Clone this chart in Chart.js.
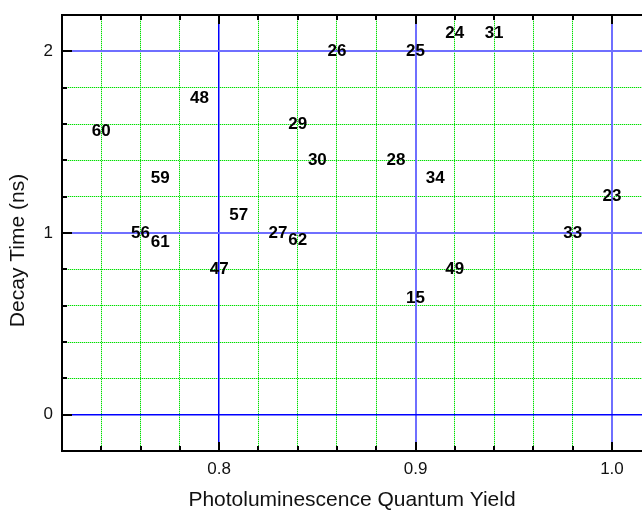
<!DOCTYPE html>
<html>
<head>
<meta charset="utf-8">
<script src="https://cdn.jsdelivr.net/npm/chart.js@4.4.1/dist/chart.umd.min.js"></script>
<style>
  html, body { margin: 0; padding: 0; background: #fff; }
  #wrap { width: 642px; height: 511px; }
</style>
</head>
<body>
<div id="wrap"><canvas id="c" width="642" height="511"></canvas></div>
<script>
// ---- data ----
const pointLabels = ['60','48','59','56','61','57','47','27','62','29','30','26','28','25','15','34','24','49','31','33','23'];
const qyValues    = [0.74,0.79,0.77,0.76,0.77,0.81,0.80,0.83,0.84,0.84,0.85,0.86,0.89,0.90,0.90,0.91,0.92,0.92,0.94,0.98,1.00];
const decayValues = [1.56,1.74,1.30,1.00,0.95,1.10,0.80,1.00,0.96,1.60,1.40,2.00,1.40,2.00,0.64,1.30,2.10,0.80,2.10,1.00,1.20];

// ---- tick labels / grid positions ----
const xMajorTicks = [0.8, 0.9, 1.0];
const xMinorTicks = [0.74, 0.76, 0.78, 0.82, 0.84, 0.86, 0.88, 0.92, 0.94, 0.96, 0.98];
const yMajorTicks = [0, 1, 2];
const yMinorTicks = [0.2, 0.4, 0.6, 0.8, 1.2, 1.4, 1.6, 1.8];
const xTickLabels = ['0.8', '0.9', '1.0'];
const yTickLabels = ['0', '1', '2'];

const points = qyValues.map((v, i) => ({ x: v, y: decayValues[i] }));

const textLabels = {
  id: 'textLabels',
  afterDatasetsDraw(chart) {
    const ctx = chart.ctx;
    const meta = chart.getDatasetMeta(0);
    ctx.save();
    ctx.font = 'bold 17px "Liberation Sans", Arial, sans-serif';
    ctx.fillStyle = '#000';
    ctx.textAlign = 'center';
    ctx.textBaseline = 'middle';
    meta.data.forEach((el, i) => {
      ctx.fillText(pointLabels[i], el.x, el.y);
    });
    ctx.restore();
  }
};

const frameTicks = {
  id: 'frameTicks',
  afterDraw(chart) {
    const { ctx, chartArea: { left, right, top, bottom }, scales: { x, y } } = chart;
    ctx.save();
    ctx.strokeStyle = '#000';
    ctx.lineWidth = 2;
    ctx.beginPath();
    ctx.moveTo(left, top); ctx.lineTo(right, top);
    ctx.moveTo(left, bottom); ctx.lineTo(right, bottom);
    ctx.moveTo(left, top - 1); ctx.lineTo(left, bottom + 1);
    ctx.stroke();
    const xt = xMajorTicks.map(v => [v, 9]).concat(xMinorTicks.map(v => [v, 5]));
    ctx.beginPath();
    xt.forEach(([v, len]) => {
      const px = Math.round(x.getPixelForValue(v));
      ctx.moveTo(px, bottom); ctx.lineTo(px, bottom - len);
      ctx.moveTo(px, top); ctx.lineTo(px, top + len);
    });
    const yt = yMajorTicks.map(v => [v, 10]).concat(yMinorTicks.map(v => [v, 5]));
    yt.forEach(([v, len]) => {
      const py = Math.round(y.getPixelForValue(v));
      ctx.moveTo(left, py); ctx.lineTo(left + len, py);
    });
    ctx.stroke();
    ctx.restore();
  }
};

const tickFont = { family: '"Liberation Sans", Arial, sans-serif', size: 17 };
const titleFont = { family: '"Liberation Sans", Arial, sans-serif', size: 21, lineHeight: 1 };
const noPad = s => { s.paddingTop = 0; s.paddingBottom = 0; s.paddingLeft = 0; s.paddingRight = 0; };

function minorAxis(pos, min, max, values, color, z, dash) {
  const horizontal = pos === 'bottom';
  return {
    type: 'linear', position: pos, min: min, max: max,
    afterBuildTicks: s => { s.ticks = values.map(v => ({ value: v })); },
    afterFit: s => { if (horizontal) s.height = 0; else s.width = 0; noPad(s); },
    ticks: { display: false },
    grid: { drawTicks: false, z: z, color: color, lineWidth: 1 },
    border: { display: false, dash: dash }
  };
}

new Chart(document.getElementById('c'), {
  type: 'scatter',
  data: {
    datasets: [{
      data: points,
      pointRadius: 0,
      pointHoverRadius: 0,
      showLine: false
    }]
  },
  options: {
    responsive: false,
    animation: false,
    events: [],
    layout: { padding: { top: 15, right: 0, left: 0, bottom: 0 } },
    plugins: { legend: { display: false }, tooltip: { enabled: false } },
    scales: {
      x: {
        type: 'linear', position: 'bottom', min: 0.72, max: 1.0153,
        afterBuildTicks: s => { s.ticks = xMajorTicks.map(v => ({ value: v })); },
        afterFit: s => { s.height = 60; noPad(s); },
        ticks: {
          color: '#111', font: tickFont, padding: 8,
          callback: (v) => { const i = xMajorTicks.indexOf(v); return i >= 0 ? xTickLabels[i] : ''; }
        },
        grid: {
          drawTicks: false, z: -1,
          color: c => (c.tick && c.tick.value === 0.8) ? '#0000ff' : '#6f6fff',
          lineWidth: c => (c.tick && c.tick.value === 0.8) ? 1.5 : 2
        },
        border: { display: false },
        title: { display: true, text: 'Photoluminescence Quantum Yield', color: '#111', font: titleFont, padding: { top: 0, bottom: 0 } }
      },
      xmPale: minorAxis('bottom', 0.72, 1.0153, xMinorTicks, '#b4f5b4', -3, []),
      xm: minorAxis('bottom', 0.72, 1.0153, xMinorTicks, '#00e000', -2, [1, 1]),
      y: {
        type: 'linear', position: 'left', min: -0.2, max: 2.2,
        afterBuildTicks: s => { s.ticks = yMajorTicks.map(v => ({ value: v })); },
        afterFit: s => { s.width = 62; noPad(s); },
        ticks: {
          color: '#111', font: tickFont, padding: 9,
          callback: (v) => { const i = yMajorTicks.indexOf(v); return i >= 0 ? yTickLabels[i] : ''; }
        },
        grid: {
          drawTicks: false, z: -1,
          color: c => (c.tick && c.tick.value === 0) ? '#0000ff' : '#6f6fff',
          lineWidth: c => (c.tick && c.tick.value === 0) ? 1.5 : 2
        },
        border: { display: false },
        title: { display: true, text: 'Decay Time (ns)      ', color: '#111', font: titleFont, padding: { top: 8, bottom: 0 } }
      },
      ymPale: minorAxis('left', -0.2, 2.2, yMinorTicks, '#b4f5b4', -3, []),
      ym: minorAxis('left', -0.2, 2.2, yMinorTicks, '#00e000', -2, [1, 1])
    }
  },
  plugins: [textLabels, frameTicks]
});
</script>
</body>
</html>
